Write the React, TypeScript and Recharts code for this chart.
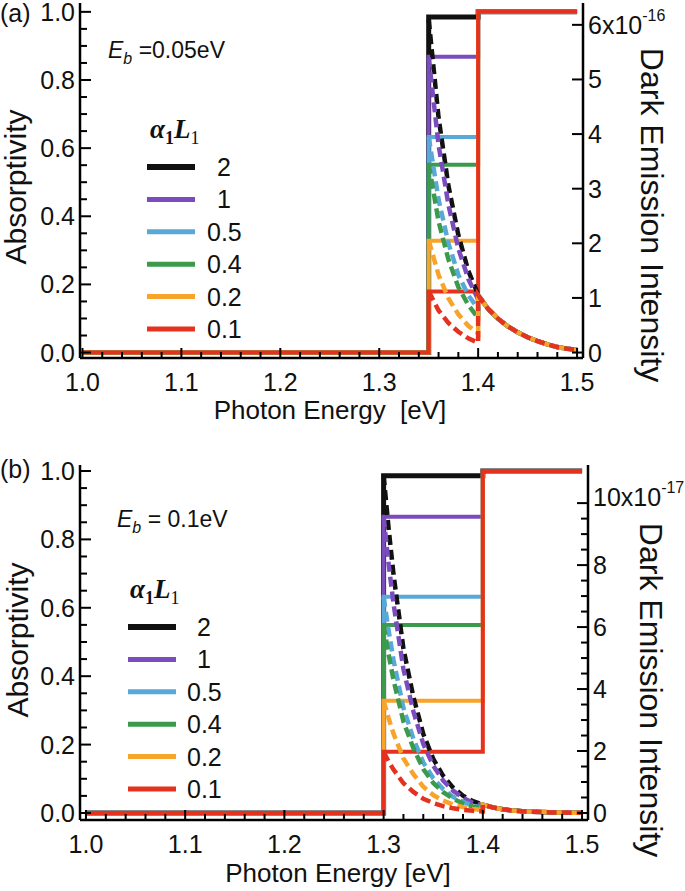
import React from 'react';
import { LineChart, Line, XAxis, YAxis } from 'recharts';

// ---------------- data ----------------
const seriesLabels = ['2', '1', '0.5', '0.4', '0.2', '0.1'];
const seriesColors = ['#111111', '#7b4cbd', '#58a9d8', '#3b9a4b', '#f8a42b', '#e5321f'];

const xTickLabels = ['1.0', '1.1', '1.2', '1.3', '1.4', '1.5'];
const leftTickLabels = ['0.0', '0.2', '0.4', '0.6', '0.8', '1.0'];
const rightTickLabelsA = ['0', '1', '2', '3', '4', '5', '6'];
const rightTickLabelsB = ['0', '2', '4', '6', '8', '10'];
const rightExponentA = '-16';
const rightExponentB = '-17';

// absorptivity step energies: [start, band edge, full absorption edge, end]
const stepEnergiesA = [1.0, 1.35, 1.4, 1.5];
const stepEnergiesB = [1.0, 1.3, 1.4, 1.5];
const absorptivityA = [0.985, 0.868, 0.633, 0.551, 0.328, 0.179];
const absorptivityB = [0.986, 0.866, 0.632, 0.55, 0.328, 0.179];

// dark emission (a), units of 1e-16
const emissionGridA = [1.35, 1.36, 1.37, 1.38, 1.39, 1.4];
const emissionA_2 = [6.1, 4.3, 3.05, 2.15, 1.5, 1.06];
const emissionA_1 = [5.4, 3.8, 2.7, 1.9, 1.35, 0.97];
const emissionA_05 = [3.95, 2.8, 2.0, 1.42, 1.05, 0.8];
const emissionA_04 = [3.45, 2.4, 1.7, 1.2, 0.87, 0.63];
const emissionA_02 = [2.05, 1.42, 0.99, 0.7, 0.49, 0.35];
const emissionA_01 = [1.12, 0.77, 0.54, 0.38, 0.26, 0.18];
const tailGridA = [1.4, 1.41, 1.42, 1.43, 1.44, 1.45, 1.46, 1.47, 1.48, 1.49, 1.5];
const tailA = [1.05, 0.8, 0.62, 0.48, 0.37, 0.28, 0.21, 0.15, 0.1, 0.07, 0.05];

// dark emission (b), units of 1e-17
const emissionGridB = [1.3, 1.305, 1.31, 1.32, 1.33, 1.34, 1.35, 1.36, 1.37, 1.38, 1.39, 1.4];
const emissionB_2 = [10.9, 9.2, 7.7, 5.3, 3.75, 2.55, 1.75, 1.2, 0.82, 0.56, 0.38, 0.27];
const emissionB_1 = [9.55, 8.05, 6.75, 4.64, 3.28, 2.23, 1.53, 1.05, 0.72, 0.49, 0.33, 0.24];
const emissionB_05 = [6.97, 5.9, 4.93, 3.39, 2.4, 1.63, 1.12, 0.77, 0.52, 0.36, 0.24, 0.17];
const emissionB_04 = [6.07, 5.12, 4.29, 2.95, 2.09, 1.42, 0.97, 0.67, 0.46, 0.31, 0.21, 0.15];
const emissionB_02 = [3.62, 3.06, 2.56, 1.76, 1.25, 0.85, 0.58, 0.4, 0.27, 0.19, 0.13, 0.09];
const emissionB_01 = [1.97, 1.67, 1.4, 0.96, 0.68, 0.46, 0.32, 0.22, 0.15, 0.1, 0.07, 0.05];
const tailGridB = [1.4, 1.41, 1.42, 1.43, 1.44, 1.45, 1.46, 1.47, 1.48, 1.49, 1.5];
const tailB = [0.27, 0.18, 0.12, 0.08, 0.055, 0.04, 0.03, 0.02, 0.015, 0.01, 0.01];

const emissionSetA = [emissionA_2, emissionA_1, emissionA_05, emissionA_04, emissionA_02, emissionA_01];
const emissionSetB = [emissionB_2, emissionB_1, emissionB_05, emissionB_04, emissionB_02, emissionB_01];

// ---------------- helpers ----------------
const FONT = '"Liberation Sans", Arial, Helvetica, sans-serif';
const SERIF = '"Liberation Serif", "DejaVu Serif", serif';

function stepData(e: number[], a: number) {
  return [
    { x: e[0], y: 0 },
    { x: e[1], y: 0 },
    { x: e[1], y: a },
    { x: e[2], y: a },
    { x: e[2], y: 1 },
    { x: e[3], y: 1 },
  ];
}

function emissionData(grid: number[], vals: number[], tg: number[], tv: number[]) {
  const pts = grid.map((x, i) => ({ x, y: vals[i] }));
  return pts.concat(tg.map((x, i) => ({ x, y: tv[i] })));
}

function range(a: number, b: number, step: number) {
  const out: number[] = [];
  const n = Math.round((b - a) / step);
  for (let i = 0; i <= n; i++) out.push(+(a + i * step).toFixed(4));
  return out;
}

const isIn = (arr: number[], v: number) => arr.some((m) => Math.abs(m - v) < 1e-6);

const xMajor = xTickLabels.map(Number);
const xTicks = range(1.0, 1.5, 0.02).concat(xMajor).filter((v, i, a) => a.findIndex((w) => Math.abs(w - v) < 1e-6) === i);
const leftMajor = leftTickLabels.map(Number);
const leftTicks = range(0, 1, 0.05);

type PanelCfg = {
  top: number;
  height: number;
  marginTop: number;
  leftW: number;
  rightW: number;
  bottomH: number;
  xDomain: [number, number];
  leftDomain: [number, number];
  rightDomain: [number, number];
  steps: number[];
  absorb: number[];
  emission: number[][];
  grid: number[];
  tailGrid: number[];
  tail: number[];
  rightLabels: string[];
  rightMinor: number;
  exponent: string;
  xLabelDy: number;
  expDy: number;
};

function makeXTick(labelDy: number, showLabel: boolean, dir: number) {
  return (props: any) => {
    const { x, y, payload } = props;
    const v = payload.value;
    const major = isIn(xMajor, v);
    const len = major ? 10 : 6;
    const idx = xMajor.findIndex((m) => Math.abs(m - v) < 1e-6);
    return (
      <g>
        <line x1={x} x2={x} y1={y} y2={y - dir * len} stroke="#000" strokeWidth={2} />
        {showLabel && major ? (
          <text x={x} y={y + labelDy} textAnchor="middle" fontFamily={FONT} fontSize={25} fill="#111">
            {xTickLabels[idx]}
          </text>
        ) : null}
      </g>
    );
  };
}

function LeftTick(props: any) {
  const { x, y, payload } = props;
  const v = payload.value;
  const major = isIn(leftMajor, v);
  const idx = leftMajor.findIndex((m) => Math.abs(m - v) < 1e-6);
  return (
    <g>
      <line x1={x} x2={x + (major ? 11 : 7)} y1={y} y2={y} stroke="#000" strokeWidth={2} />
      {major ? (
        <text x={x - 5} y={y + 9} textAnchor="end" fontFamily={FONT} fontSize={25} fill="#111">
          {leftTickLabels[idx]}
        </text>
      ) : null}
    </g>
  );
}

function makeRightTick(labels: string[], exponent: string, expDy: number) {
  const majors = labels.map(Number);
  const top = majors[majors.length - 1];
  return (props: any) => {
    const { x, y, payload } = props;
    const v = payload.value;
    const major = isIn(majors, v);
    const idx = majors.findIndex((m) => Math.abs(m - v) < 1e-6);
    return (
      <g>
        <line x1={x} x2={x - (major ? 11 : 7)} y1={y} y2={y} stroke="#000" strokeWidth={2} />
        {major ? (
          <text x={x + 5} y={y + 9 + (v === top ? expDy : 0)} textAnchor="start" fontFamily={FONT} fontSize={25} fill="#111">
            {v === top ? labels[idx] + 'x10' : labels[idx]}
            {v === top ? (
              <tspan dy={-13} fontSize={16}>
                {exponent}
              </tspan>
            ) : null}
          </text>
        ) : null}
      </g>
    );
  };
}

function Panel({ cfg }: { cfg: PanelCfg }) {
  const rightMajors = cfg.rightLabels.map(Number);
  const rightTicks = range(0, rightMajors[rightMajors.length - 1], cfg.rightMinor);
  const XB = makeXTick(cfg.xLabelDy, true, 1);
  const XT = makeXTick(0, false, -1);
  const RT = makeRightTick(cfg.rightLabels, cfg.exponent, cfg.expDy);
  return (
    <div style={{ position: 'absolute', left: 0, top: cfg.top }}>
      <LineChart
        width={685}
        height={cfg.height}
        margin={{ top: cfg.marginTop, right: 0, left: 0, bottom: 0 }}
      >
        <XAxis
          xAxisId="b"
          type="number"
          dataKey="x"
          domain={cfg.xDomain}
          allowDataOverflow
          ticks={xTicks}
          interval={0}
          tickSize={0}
          tickMargin={0}
          height={cfg.bottomH}
          axisLine={{ stroke: '#000', strokeWidth: 2.5 }}
          tickLine={false}
          tick={XB}
        />
        <XAxis
          xAxisId="t"
          orientation="top"
          type="number"
          dataKey="x"
          domain={cfg.xDomain}
          allowDataOverflow
          ticks={xTicks}
          interval={0}
          tickSize={0}
          tickMargin={0}
          height={0}
          axisLine={{ stroke: '#000', strokeWidth: 2.5 }}
          tickLine={false}
          tick={XT}
        />
        <YAxis
          yAxisId="l"
          type="number"
          domain={cfg.leftDomain}
          allowDataOverflow
          ticks={leftTicks}
          interval={0}
          tickSize={0}
          tickMargin={0}
          width={cfg.leftW}
          axisLine={{ stroke: '#000', strokeWidth: 2.5 }}
          tickLine={false}
          tick={LeftTick}
        />
        <YAxis
          yAxisId="r"
          orientation="right"
          type="number"
          domain={cfg.rightDomain}
          allowDataOverflow
          ticks={rightTicks}
          interval={0}
          tickSize={0}
          tickMargin={0}
          width={cfg.rightW}
          axisLine={{ stroke: '#000', strokeWidth: 2.5 }}
          tickLine={false}
          tick={RT}
        />
        {cfg.absorb.map((a, i) => (
          <Line
            key={'abs' + i}
            xAxisId="b"
            yAxisId="l"
            data={stepData(cfg.steps, a)}
            dataKey="y"
            type="linear"
            stroke={seriesColors[i]}
            strokeWidth={i === 0 ? 5 : 4}
            dot={false}
            activeDot={false}
            isAnimationActive={false}
          />
        ))}
        {cfg.emission.map((vals, i) => (
          <Line
            key={'em' + i}
            xAxisId="b"
            yAxisId="r"
            data={emissionData(cfg.grid, vals, cfg.tailGrid, cfg.tail)}
            dataKey="y"
            type="linear"
            stroke={seriesColors[i]}
            strokeWidth={4.5}
            strokeDasharray="10 5"
            dot={false}
            activeDot={false}
            isAnimationActive={false}
          />
        ))}
      </LineChart>
    </div>
  );
}

const panelA: PanelCfg = {
  top: 0,
  height: 440,
  marginTop: 3,
  leftW: 80,
  rightW: 102,
  bottomH: 82,
  xDomain: [0.9975, 1.506],
  leftDomain: [-0.016, 1.026],
  rightDomain: [-0.1, 6.4],
  steps: stepEnergiesA,
  absorb: absorptivityA,
  emission: emissionSetA,
  grid: emissionGridA,
  tailGrid: tailGridA,
  tail: tailA,
  rightLabels: rightTickLabelsA,
  rightMinor: 1,
  exponent: rightExponentA,
  xLabelDy: 33,
  expDy: 0,
};

const panelB: PanelCfg = {
  top: 440,
  height: 440,
  marginTop: 25,
  leftW: 80,
  rightW: 97,
  bottomH: 60,
  xDomain: [0.994, 1.506],
  leftDomain: [-0.0205, 1.0175],
  rightDomain: [-0.226, 11.23],
  steps: stepEnergiesB,
  absorb: absorptivityB,
  emission: emissionSetB,
  grid: emissionGridB,
  tailGrid: tailGridB,
  tail: tailB,
  rightLabels: rightTickLabelsB,
  rightMinor: 0.5,
  exponent: rightExponentB,
  xLabelDy: 33,
  expDy: -6,
};

function Legend({ x0, y0, lineX, textX }: { x0: number; y0: number; lineX: number; textX: number }) {
  return (
    <g>
      <text x={x0} y={y0} fontFamily={SERIF} fontSize={27} fontWeight="bold" fill="#111">
        <tspan fontStyle="italic">α</tspan>
        <tspan fontSize={18} dy={6}>1</tspan>
        <tspan fontStyle="italic" dy={-6}>L</tspan>
        <tspan fontSize={18} dy={6} fontWeight="normal">1</tspan>
      </text>
      {seriesLabels.map((lab, i) => {
        const y = y0 + 29 + i * 32.4;
        return (
          <g key={lab}>
            <line x1={lineX} x2={lineX + 48} y1={y} y2={y} stroke={seriesColors[i]} strokeWidth={i === 0 ? 6 : 5} />
            <text x={textX + (lab.length < 3 ? 10 : 0)} y={y + 9} fontFamily={FONT} fontSize={25} fill="#111">
              {lab}
            </text>
          </g>
        );
      })}
    </g>
  );
}

function Overlay() {
  return (
    <svg width={685} height={891} style={{ position: 'absolute', left: 0, top: 0, pointerEvents: 'none' }}>
      {/* panel (a) */}
      <text x={0} y={22} fontFamily={FONT} fontSize={25} fill="#111">(a)</text>
      <text x={108} y={58} fontFamily={FONT} fontSize={23} fill="#111">
        <tspan fontStyle="italic">E</tspan>
        <tspan fontSize={16} dy={6} fontStyle="italic">b</tspan>
        <tspan dy={-6}> =0.05eV</tspan>
      </text>
      <Legend x0={150} y0={138} lineX={147} textX={207} />
      <text transform="translate(26,187) rotate(-90)" textAnchor="middle" fontFamily={FONT} fontSize={30} fill="#111">
        Absorptivity
      </text>
      <text transform="translate(641,215) rotate(90)" textAnchor="middle" fontFamily={FONT} fontSize={32} fill="#111">
        Dark Emission Intensity
      </text>
      <text x={330} y={419} textAnchor="middle" fontFamily={FONT} fontSize={26} fill="#111" style={{ whiteSpace: 'pre' }}>
        {'Photon Energy  [eV]'}
      </text>

      {/* panel (b) */}
      <text x={0} y={478} fontFamily={FONT} fontSize={25} fill="#111">(b)</text>
      <text x={117} y={527} fontFamily={FONT} fontSize={23} fill="#111">
        <tspan fontStyle="italic">E</tspan>
        <tspan fontSize={16} dy={6} fontStyle="italic">b</tspan>
        <tspan dy={-6}> = 0.1eV</tspan>
      </text>
      <Legend x0={130} y0={598} lineX={128} textX={187} />
      <text transform="translate(28,640) rotate(-90)" textAnchor="middle" fontFamily={FONT} fontSize={30} fill="#111">
        Absorptivity
      </text>
      <text transform="translate(640,690) rotate(90)" textAnchor="middle" fontFamily={FONT} fontSize={32} fill="#111">
        Dark Emission Intensity
      </text>
      <text x={338} y={882} textAnchor="middle" fontFamily={FONT} fontSize={26} fill="#111">
        Photon Energy [eV]
      </text>
    </svg>
  );
}

export default function App() {
  return (
    <div style={{ position: 'absolute', left: 0, top: 0, width: 685, height: 891, background: '#fff', overflow: 'hidden' }}>
      <Panel cfg={panelA} />
      <Panel cfg={panelB} />
      <Overlay />
    </div>
  );
}
